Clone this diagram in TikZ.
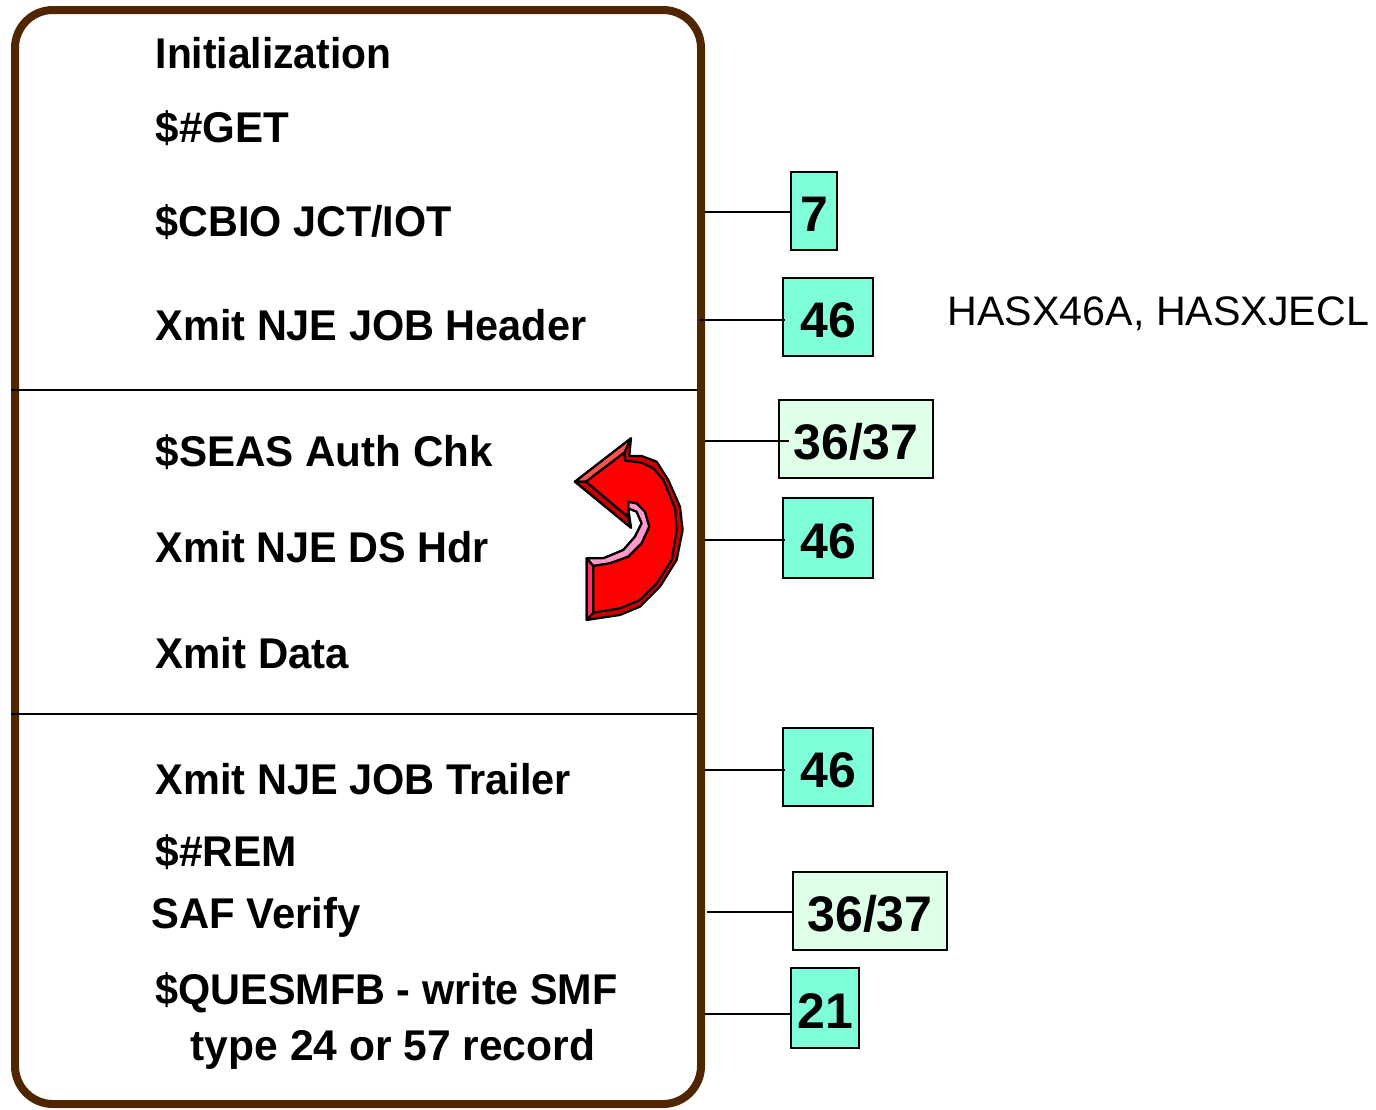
\documentclass[tikz,border=0pt]{standalone}
\usepackage{fontspec}
\setmainfont{Liberation Sans}
\definecolor{framebrown}{HTML}{4F2600}
\definecolor{aqua}{HTML}{7FFFD9}
\definecolor{mint}{HTML}{E0FFE9}
\definecolor{darkred}{HTML}{CC0000}
\definecolor{salmon}{HTML}{FF5050}
\definecolor{pinkred}{HTML}{FF3366}
\definecolor{lightpink}{HTML}{FF99CC}
\begin{document}
\begin{tikzpicture}[x=1pt, y=-1pt]
	\tikzstyle{step text}=[anchor=base west, inner sep=0pt, font=\fontsize{43}{43}\selectfont\bfseries]
	\tikzstyle{ref}=[draw, line width=1.5pt, inner sep=0pt, font=\fontsize{50}{50}\selectfont\bfseries]
	\tikzstyle{tap}=[draw, line width=1.5pt]
	\tikzstyle{facet}=[draw, line width=2.2pt, line join=round]

	\useasboundingbox (0,0) rectangle (1376,1109);

	\node [draw=framebrown, line width=8pt, rounded corners=38pt, minimum width=686pt, minimum height=1094pt, inner sep=0pt] (frame) at (358,557) {};
	\coordinate (div1a) at (11,390);
	\coordinate (div1b) at (697,390);
	\coordinate (div2a) at (11,714);
	\coordinate (div2b) at (697,714);
	\draw [tap] (div1a) -- (div1b);
	\draw [tap] (div2a) -- (div2b);

	% steps
	\foreach \name/\X/\Y/\sx/\txt in {s1/155.5/68/.948/Initialization, s2/155.5/142/.978/\$\#GET, s3/155.5/236/.961/{\$CBIO JCT/IOT}, s4/155.5/340/.964/Xmit NJE JOB Header, s5/155.5/466/.98/\$SEAS Auth Chk, s6/155.5/562/.962/Xmit NJE DS Hdr, s7/155.5/668/.975/Xmit Data, s8/155.5/794/.965/Xmit NJE JOB Trailer, s9/155.5/866/.986/\$\#REM, s10/151.5/928/.972/SAF Verify, s11/155.5/1004/.962/\$QUESMFB - write SMF, s12/190.5/1060/.99/type 24 or 57 record}
	{
		\node [step text, xscale=\sx] (\name) at (\X,\Y) {\txt};
	}

	% reference boxes
	\foreach \name/\Xa/\Ya/\Xb/\Yb/\col/\txt in {b1/791/172/837/250/aqua/7, b2/783/278/873/356/aqua/46, b3/779/400/933/478/mint/{36/37}, b4/783/498/873/578/aqua/46, b5/783/728/873/806/aqua/46, b6/793/872/947/950/mint/{36/37}, b7/791/968/859/1048/aqua/21}
	{
		\pgfmathsetmacro{\W}{\Xb-\Xa}
		\pgfmathsetmacro{\H}{\Yb-\Ya}
		\node [ref, fill=\col, minimum width=\W pt, minimum height=\H pt] (\name) at ({(\Xa+\Xb)/2},{(\Ya+\Yb)/2}) {\raisebox{-3pt}[\height][\depth]{\txt}};
	}

	\node [anchor=base west, inner sep=0pt, font=\fontsize{41.2}{41.2}\selectfont] (hasx) at (947.5,325) {HASX46A, HASXJECL};

	% connectors
	\foreach \j/\bx/\Xa/\Y/\ext in {1/b1/705/212/0, 2/b2/700/320/3, 3/b3/705/441/11, 4/b4/705/540/3, 5/b5/705/770/3, 6/b6/707/912/0, 7/b7/705/1014/0}
	{
		\coordinate (ta\j) at (\Xa,\Y);
		\draw [tap, shorten >=-\ext pt] (ta\j) -- (ta\j -| \bx.west);
	}

	% loop arrow
	\begin{scope}[shift={(560,420)}, x=0.3333pt, y=-0.3333pt]
		\draw [facet, fill=darkred] (45,185) -- (213,55) -- (208,108) -- (245,108) -- (290,125) -- (325,180) -- (360,260) -- (368,330) -- (350,420) -- (300,500) -- (240,560) -- (180,585) -- (80,600) -- (80,415) -- (130,415) -- (190,390) -- (225,350) -- (245,310) -- (230,275) -- (205,265) -- (213,323) -- cycle;
		\draw [facet, fill=salmon] (45,185) -- (213,55) -- (193,98) -- (78,185) -- cycle;
		\draw [facet, fill=darkred] (45,185) -- (78,185) -- (203,290) -- (213,323) -- cycle;
		\draw [facet, fill=lightpink] (205,245) -- (230,250) -- (255,275) -- (268,320) -- (245,370) -- (205,410) -- (150,430) -- (100,438) -- (80,415) -- (130,415) -- (190,390) -- (225,350) -- (245,310) -- (230,275) -- (205,265) -- cycle;
		\draw [facet, fill=pinkred] (80,415) -- (100,438) -- (100,578) -- (80,600) -- cycle;
		\draw [facet, fill=red] (78,185) -- (193,98) -- (195,122) -- (245,128) -- (280,145) -- (310,180) -- (345,265) -- (350,330) -- (335,420) -- (290,490) -- (240,540) -- (180,565) -- (100,578) -- (100,438) -- (150,430) -- (205,410) -- (245,370) -- (268,320) -- (255,275) -- (230,250) -- (205,245) -- (203,290) -- cycle;
	\end{scope}
\end{tikzpicture}
\end{document}
